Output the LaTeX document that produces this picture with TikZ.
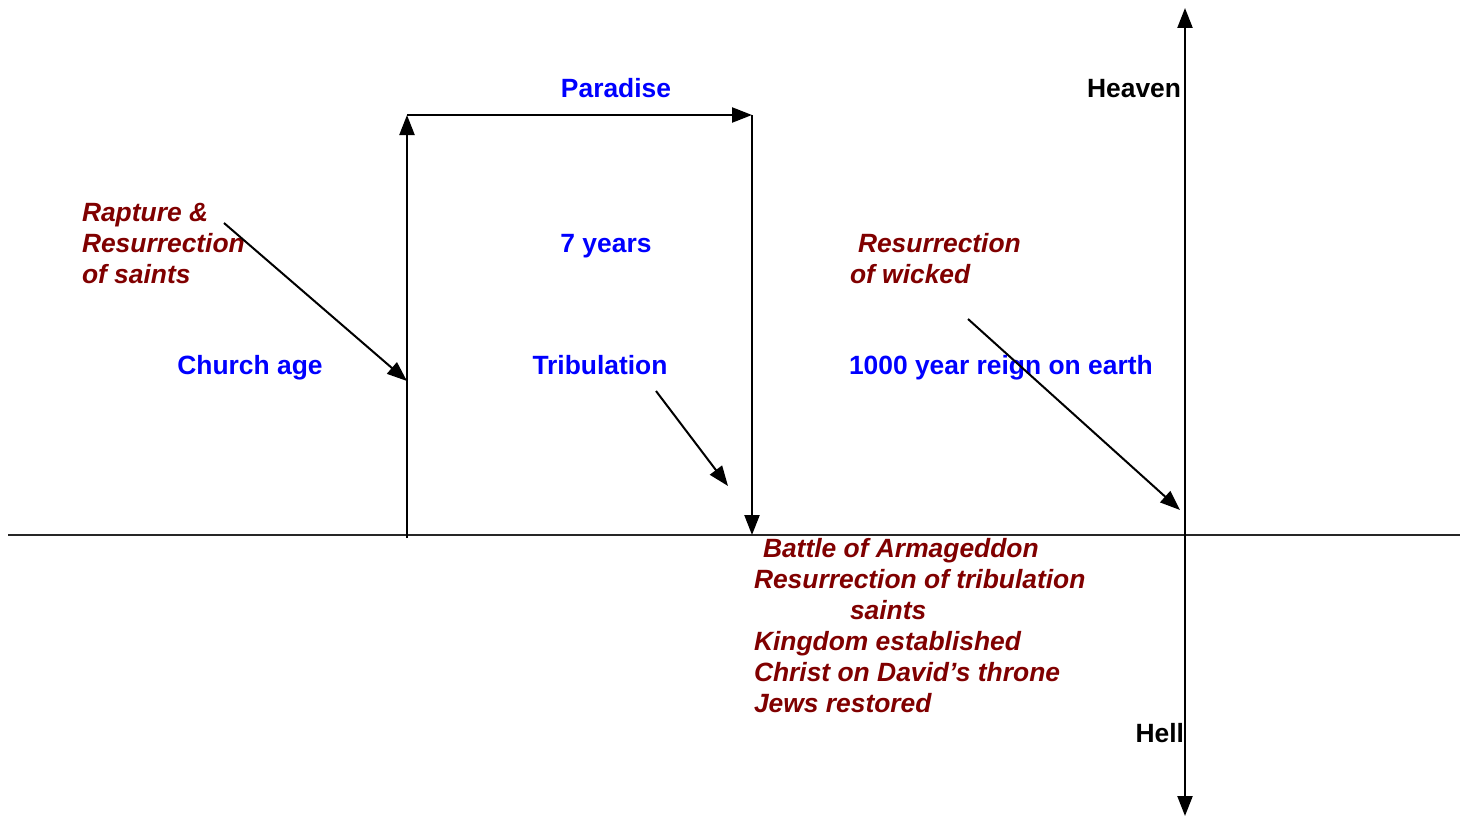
\documentclass[tikz,border=0pt]{standalone}
\usepackage{fontspec}
\setmainfont{Liberation Sans}
\usetikzlibrary{arrows.meta}
\definecolor{maroonc}{RGB}{128,0,0}
\definecolor{bluec}{RGB}{0,0,255}
\begin{document}
\begin{tikzpicture}[x=1pt,y=-1pt,
  every node/.style={inner sep=0pt, outer sep=0pt},
  txt/.style={font=\fontsize{26.4}{31}\selectfont\bfseries},
  bluetxt/.style={txt, text=bluec},
  redtxt/.style={txt, text=maroonc, font=\fontsize{26.4}{31}\selectfont\bfseries\itshape, align=left},
  blacktxt/.style={txt, text=black},
  ln/.style={line width=2.3pt, black},
  arr/.style={ln, -{Triangle[length=20pt,width=15pt]}},
  thinarr/.style={line width=2pt, black, -{Triangle[length=20pt,width=15pt]}}
]
\useasboundingbox (0,0) rectangle (1460,816);
% axes
\coordinate (hl) at (8,535);
\coordinate (hr) at (1460,535);
\coordinate (vt) at (1185,8);
\coordinate (vb) at (1185,816);
\coordinate (vc) at (1185,535);
\draw[line width=1.8pt, black!85] (hl) -- (hr);
\draw[arr] (vc) -- (vt);
\draw[arr] (vc) -- (vb);
% box path
\coordinate (a0) at (407,538);
\coordinate (a1) at (407,115);
\coordinate (a2) at (752,115);
\coordinate (a3) at (752,535);
\draw[arr] (a0) -- (a1);
\draw[arr] (a1) -- (a2);
\draw[arr] (a2) -- (a3);
% labels
\node[bluetxt, anchor=base] (paradise) at (616,98) {Paradise};
\node[blacktxt, anchor=base east] (heaven) at (1181,98) {Heaven};
\node[blacktxt, anchor=base east] (hell) at (1184,742) {Hell};
\node[bluetxt, anchor=base] (church) at (250,374) {Church age};
\node[bluetxt, anchor=base] (seven) at (606,252) {7 years};
\node[bluetxt, anchor=base] (trib) at (600,374) {Tribulation};
\node[bluetxt, anchor=base west] (reign) at (849,374) {1000 year reign on earth};
\node[redtxt, anchor=base west] (rapture) at (82,283) {Rapture \&\\Resurrection\\of saints};
\node[redtxt, anchor=base west] (wicked) at (850,283) {\hspace*{8pt}Resurrection\\of wicked};
\node[redtxt, anchor=base west] (events) at (754,712) {\hspace*{9pt}Battle of Armageddon\\Resurrection of tribulation\\\hspace*{96pt}saints\\Kingdom established\\Christ on David’s throne\\Jews restored};
% pointer arrows
\coordinate (r0) at (224,223);
\coordinate (r1) at (407,381);
\coordinate (t0) at (656,391);
\coordinate (t1) at (728,486);
\coordinate (w0) at (968,319);
\coordinate (w1) at (1180,510);
\draw[thinarr] (r0) -- (r1);
\draw[thinarr] (t0) -- (t1);
\draw[thinarr] (w0) -- (w1);
\end{tikzpicture}
\end{document}
